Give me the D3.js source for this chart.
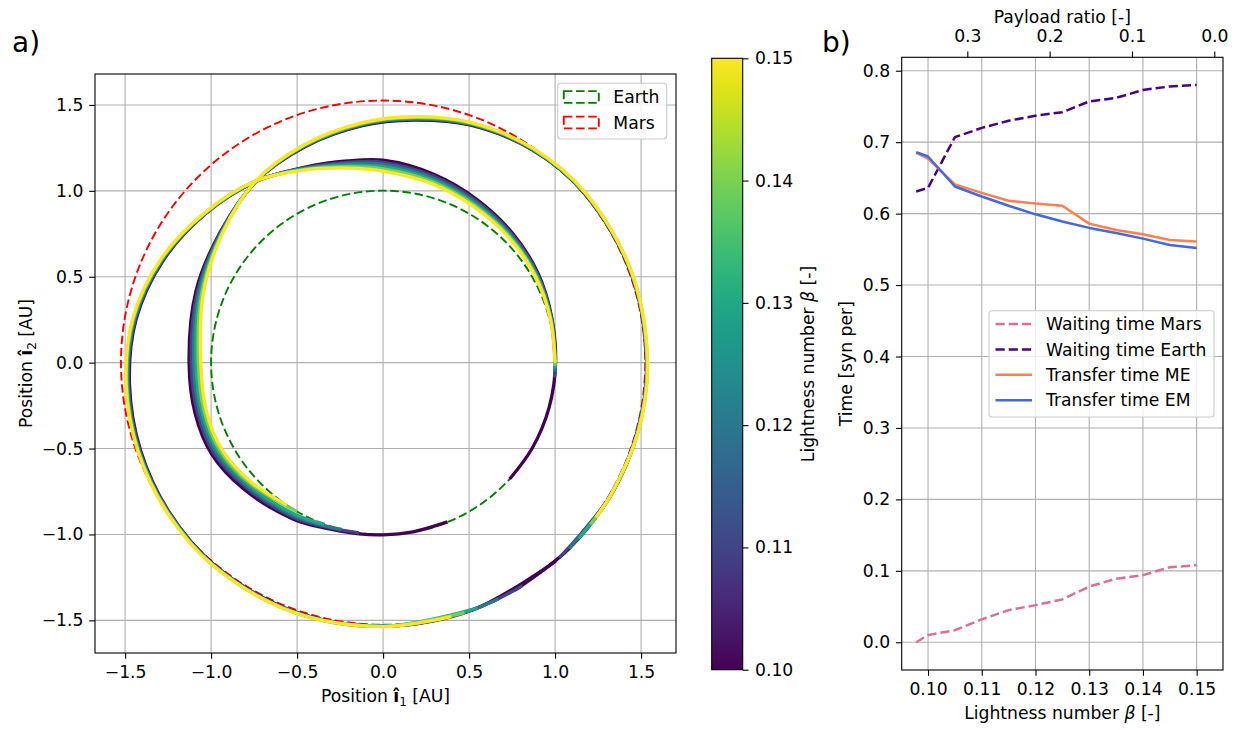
<!DOCTYPE html>
<html><head><meta charset="utf-8">
<script src="https://cdn.jsdelivr.net/npm/d3@7"></script>
<style>
body{margin:0;background:#fff;}
svg{display:block;font-family:"DejaVu Sans",sans-serif;}
</style>
</head><body>
<svg id="c" width="1239" height="730"></svg>
<script>
// ---------------- DATA ----------------
// Panel a) trajectories, each point = [polar angle in degrees, radius in AU]
const trajBeta = [0.10, 0.11, 0.12, 0.13, 0.14, 0.15];
const trajEM = [
  [[-42.6,1.0],[-30,1.0],[-15,1.0],[0,1.003],[15,1.015],[30,1.04],[45,1.065],[60,1.095],[75,1.135],[90,1.178],[100,1.192],[112,1.226],[125,1.288],[140,1.348],[155,1.41],[170,1.458],[185,1.48],[200,1.50],[215,1.518],[230,1.533],[250,1.538],[270,1.533],[290,1.53],[311,1.53]],
  [[-5,1.0],[0,1.001],[15,1.013],[30,1.036],[45,1.058],[60,1.086],[75,1.124],[90,1.166],[100,1.184],[112,1.223],[125,1.288],[140,1.35],[155,1.413],[170,1.462],[185,1.485],[200,1.504],[215,1.52],[230,1.535],[250,1.539],[270,1.534],[290,1.53],[302,1.53]],
  [[-3,1.0],[0,1.001],[15,1.011],[30,1.031],[45,1.051],[60,1.077],[75,1.113],[90,1.154],[100,1.176],[112,1.22],[125,1.289],[140,1.351],[155,1.417],[170,1.467],[185,1.49],[200,1.508],[215,1.523],[230,1.536],[250,1.541],[270,1.534],[285,1.53],[296,1.53]],
  [[-2,1.0],[0,1.0],[15,1.009],[30,1.027],[45,1.044],[60,1.068],[75,1.102],[90,1.141],[100,1.167],[112,1.216],[125,1.29],[140,1.352],[155,1.42],[170,1.471],[185,1.494],[200,1.511],[215,1.525],[230,1.538],[250,1.542],[270,1.535],[291,1.53]],
  [[-1,1.0],[0,1.0],[15,1.007],[30,1.022],[45,1.038],[60,1.059],[75,1.091],[90,1.128],[100,1.158],[112,1.213],[125,1.29],[140,1.354],[155,1.423],[170,1.475],[185,1.497],[200,1.514],[215,1.527],[230,1.539],[250,1.543],[270,1.535],[288,1.53]],
  [[0,1.0],[15,1.006],[30,1.018],[45,1.032],[60,1.05],[75,1.08],[90,1.115],[100,1.15],[112,1.21],[125,1.291],[140,1.356],[155,1.426],[170,1.478],[185,1.5],[200,1.516],[215,1.529],[230,1.54],[250,1.544],[270,1.536],[285,1.53]]
];
const trajME = [
  [[-60,1.53],[-45,1.53],[-30,1.531],[-15,1.532],[0,1.532],[20,1.533],[40,1.53],[55,1.512],[70,1.472],[83,1.422],[95,1.384],[110,1.336],[125,1.288],[141,1.215],[159,1.165],[180,1.128],[195,1.132],[208,1.13],[222,1.095],[240,1.05],[250,1.022],[262,1.006],[270,1.002],[280,1.0],[292,1.0]],
  [[-48,1.53],[-30,1.532],[-15,1.533],[0,1.533],[20,1.534],[40,1.532],[55,1.514],[70,1.475],[83,1.426],[95,1.388],[110,1.338],[125,1.288],[141,1.212],[159,1.156],[180,1.115],[195,1.118],[208,1.116],[222,1.08],[240,1.04],[250,1.015],[262,1.0]],
  [[-45,1.53],[-30,1.533],[-15,1.534],[0,1.534],[20,1.535],[40,1.533],[55,1.516],[70,1.478],[83,1.43],[95,1.392],[110,1.341],[125,1.289],[141,1.209],[159,1.147],[180,1.101],[195,1.104],[208,1.102],[222,1.068],[240,1.03],[250,1.008],[256,1.0]],
  [[-42,1.53],[-30,1.533],[-15,1.535],[0,1.535],[20,1.536],[40,1.534],[55,1.518],[70,1.482],[83,1.434],[95,1.395],[110,1.343],[125,1.29],[141,1.206],[159,1.138],[180,1.088],[195,1.091],[208,1.089],[222,1.056],[240,1.02],[250,1.0]],
  [[-38,1.53],[-30,1.532],[-15,1.536],[0,1.536],[20,1.537],[40,1.535],[55,1.52],[70,1.485],[83,1.438],[95,1.398],[110,1.346],[125,1.29],[141,1.203],[159,1.129],[180,1.074],[195,1.078],[208,1.077],[222,1.045],[240,1.0]],
  [[-36,1.53],[-30,1.531],[-15,1.537],[0,1.538],[20,1.538],[40,1.537],[55,1.522],[70,1.488],[83,1.442],[95,1.402],[110,1.348],[125,1.291],[141,1.2],[159,1.12],[180,1.06],[195,1.065],[208,1.065],[222,1.035],[236,1.0]]
];
const planetNames = ["Earth", "Mars"];
const planetRadii = [1.0, 1.524];
const posTicks = [-1.5, -1.0, -0.5, 0.0, 0.5, 1.0, 1.5];
const cbarTicks = [0.10, 0.11, 0.12, 0.13, 0.14, 0.15];

// Panel b)
const lightness = [0.0978, 0.100, 0.105, 0.110, 0.115, 0.120, 0.125, 0.130, 0.135, 0.140, 0.145, 0.150];
const waitMars  = [0.000, 0.010, 0.017, 0.032, 0.045, 0.052, 0.060, 0.078, 0.089, 0.094, 0.105, 0.108];
const waitEarth = [0.631, 0.636, 0.707, 0.720, 0.730, 0.737, 0.742, 0.757, 0.762, 0.773, 0.778, 0.780];
const transferME = [0.685, 0.677, 0.641, 0.629, 0.618, 0.614, 0.611, 0.586, 0.577, 0.571, 0.563, 0.561];
const transferEM = [0.686, 0.680, 0.638, 0.624, 0.611, 0.599, 0.589, 0.580, 0.573, 0.565, 0.556, 0.552];
const seriesNames = ["Waiting time Mars", "Waiting time Earth", "Transfer time ME", "Transfer time EM"];
const betaTicks = [0.10, 0.11, 0.12, 0.13, 0.14, 0.15];
const timeTicks = [0.0, 0.1, 0.2, 0.3, 0.4, 0.5, 0.6, 0.7, 0.8];
const payloadTicks = [0.3, 0.2, 0.1, 0.0];

// ---------------- STYLE ----------------
const FS = 17.2;
const GRID = "#b0b0b0";
const seriesColors = ["#DB7093", "#4B0082", "#FF7F50", "#4169E1"];
const seriesDash = ["9.2,4", "9.2,4", null, null];
const planetColors = ["green", "red"];

const svg = d3.select("#c");
svg.append("rect").attr("width",1239).attr("height",730).attr("fill","#fff");

function styleAxis(g){
  g.select(".domain").remove();
  g.selectAll(".tick line").attr("stroke","#000").attr("stroke-width",1.1);
  g.selectAll(".tick text").attr("font-size",FS).attr("fill","#000").attr("font-family","DejaVu Sans");
}

// ================= PANEL A =================
const A = {l:95, r:676, t:74, b:653};
const xL = d3.scaleLinear().domain([-1.675, 1.703]).range([A.l, A.r]);
const yL = d3.scaleLinear().domain([1.680, -1.690]).range([A.t, A.b]);
const gA = svg.append("g");
gA.append("defs").append("clipPath").attr("id","clipA").append("rect")
  .attr("x",A.l).attr("y",A.t).attr("width",A.r-A.l).attr("height",A.b-A.t);

// grid
gA.selectAll(".gx").data(posTicks).join("line")
  .attr("x1",d=>xL(d)).attr("x2",d=>xL(d)).attr("y1",A.t).attr("y2",A.b)
  .attr("stroke",GRID).attr("stroke-width",1.1);
gA.selectAll(".gy").data(posTicks).join("line")
  .attr("y1",d=>yL(d)).attr("y2",d=>yL(d)).attr("x1",A.l).attr("x2",A.r)
  .attr("stroke",GRID).attr("stroke-width",1.1);

const plotA = gA.append("g").attr("clip-path","url(#clipA)");
// planet orbits
plotA.selectAll(".orbit").data(planetRadii).join("circle")
  .attr("cx",xL(0)).attr("cy",yL(0))
  .attr("r",d=>xL(d)-xL(0))
  .attr("fill","none")
  .attr("stroke",(d,i)=>planetColors[i])
  .attr("stroke-width",1.9)
  .attr("stroke-dasharray","8.5,3.7");

// trajectories
const viridis = d3.scaleSequential(d3.interpolateViridis).domain([0.10, 0.15]);
const rad = Math.PI/180;
const trajLine = d3.line()
  .x(d=>xL(d[1]*Math.cos(d[0]*rad)))
  .y(d=>yL(d[1]*Math.sin(d[0]*rad)))
  .curve(d3.curveCatmullRom.alpha(0.5));
trajBeta.forEach((b,i)=>{
  [trajEM[i], trajME[i]].forEach(path=>{
    plotA.append("path").attr("d",trajLine(path))
      .attr("fill","none").attr("stroke",viridis(b))
      .attr("stroke-width",3.3).attr("stroke-linecap","butt").attr("stroke-linejoin","round");
  });
});

// axes
const axA_x = gA.append("g").attr("transform",`translate(0,${A.b})`)
  .call(d3.axisBottom(xL).tickValues(posTicks).tickFormat(d3.format(".1f")).tickSize(5.8).tickPadding(7));
styleAxis(axA_x);
const axA_y = gA.append("g").attr("transform",`translate(${A.l},0)`)
  .call(d3.axisLeft(yL).tickValues(posTicks).tickFormat(d3.format(".1f")).tickSize(5.8).tickPadding(5.8));
styleAxis(axA_y);
gA.append("rect").attr("x",A.l).attr("y",A.t).attr("width",A.r-A.l).attr("height",A.b-A.t)
  .attr("fill","none").attr("stroke","#000").attr("stroke-width",1.1);

// legend a
const legA = gA.append("g");
legA.append("rect").attr("x",557.7).attr("y",83.3).attr("width",109).attr("height",55.7)
  .attr("rx",3).attr("fill","#fff").attr("fill-opacity",0.8).attr("stroke","#cccccc").attr("stroke-width",1.1);
planetNames.forEach((n,i)=>{
  const cy = 97 + i*25.5;
  legA.append("rect").attr("x",563.8).attr("y",cy-5.9).attr("width",35).attr("height",11.8)
    .attr("fill","none").attr("stroke",planetColors[i]).attr("stroke-width",1.9).attr("stroke-dasharray","8.5,3.7");
  legA.append("text").attr("x",613.3).attr("y",cy+6.2).attr("font-size",FS).text(n);
});

// labels a
const xlabA = svg.append("text").attr("x",(A.l+A.r)/2).attr("y",701.5).attr("text-anchor","middle").attr("font-size",FS);
xlabA.append("tspan").text("Position ");
xlabA.append("tspan").attr("font-weight","bold").text("î");
xlabA.append("tspan").attr("font-size",12).attr("dy",4).text("1");
xlabA.append("tspan").attr("dy",-4).text(" [AU]");
const ylabA = svg.append("text").attr("transform",`translate(32,${(A.t+A.b)/2}) rotate(-90)`).attr("text-anchor","middle").attr("font-size",FS);
ylabA.append("tspan").text("Position ");
ylabA.append("tspan").attr("font-weight","bold").text("î");
ylabA.append("tspan").attr("font-size",12).attr("dy",4).text("2");
ylabA.append("tspan").attr("dy",-4).text(" [AU]");
svg.append("text").attr("x",12).attr("y",51.7).attr("font-size",28).text("a)");

// colorbar
const CB = {l:711.7, r:742.7, t:58.3, b:669.7};
const cbScale = d3.scaleLinear().domain([0.10,0.15]).range([CB.b, CB.t]);
const grad = svg.append("defs").append("linearGradient").attr("id","vir")
  .attr("x1",0).attr("y1",1).attr("x2",0).attr("y2",0);
d3.range(0,1.0001,0.05).forEach(t=>{
  grad.append("stop").attr("offset",t).attr("stop-color",d3.interpolateViridis(t));
});
svg.append("rect").attr("x",CB.l).attr("y",CB.t).attr("width",CB.r-CB.l).attr("height",CB.b-CB.t)
  .attr("fill","url(#vir)").attr("stroke","#000").attr("stroke-width",1.1);
const cbAx = svg.append("g").attr("transform",`translate(${CB.r},0)`)
  .call(d3.axisRight(cbScale).tickValues(cbarTicks).tickFormat(d3.format(".2f")).tickSize(5.8).tickPadding(6.5));
styleAxis(cbAx);
const cbl = svg.append("text").attr("transform",`translate(814,${(CB.t+CB.b)/2}) rotate(-90)`).attr("text-anchor","middle").attr("font-size",FS);
cbl.append("tspan").text("Lightness number ");
cbl.append("tspan").attr("font-style","italic").text("β");
cbl.append("tspan").text(" [-]");

// ================= PANEL B =================
const B = {l:901.7, r:1223, t:57.3, b:670};
const xR = d3.scaleLinear().domain([0.0951, 0.1549]).range([B.l, B.r]);
const yR = d3.scaleLinear().domain([-0.0388, 0.8188]).range([B.b, B.t]);
const xTop = d3.scaleLinear().domain([0.3797, -0.01057]).range([B.l, B.r]);
const gB = svg.append("g");
gB.selectAll(".gx").data(betaTicks).join("line")
  .attr("x1",d=>xR(d)).attr("x2",d=>xR(d)).attr("y1",B.t).attr("y2",B.b)
  .attr("stroke",GRID).attr("stroke-width",1.1);
gB.selectAll(".gy").data(timeTicks).join("line")
  .attr("y1",d=>yR(d)).attr("y2",d=>yR(d)).attr("x1",B.l).attr("x2",B.r)
  .attr("stroke",GRID).attr("stroke-width",1.1);

const seriesData = [waitMars, waitEarth, transferME, transferEM];
const lineB = d3.line().x((d,i)=>xR(lightness[i])).y(d=>yR(d));
seriesData.forEach((s,i)=>{
  gB.append("path").attr("d",lineB(s)).attr("fill","none")
    .attr("stroke",seriesColors[i]).attr("stroke-width",2.5)
    .attr("stroke-dasharray",seriesDash[i]).attr("stroke-linejoin","round");
});

const axB_x = gB.append("g").attr("transform",`translate(0,${B.b})`)
  .call(d3.axisBottom(xR).tickValues(betaTicks).tickFormat(d3.format(".2f")).tickSize(5.8).tickPadding(7));
styleAxis(axB_x);
const axB_y = gB.append("g").attr("transform",`translate(${B.l},0)`)
  .call(d3.axisLeft(yR).tickValues(timeTicks).tickFormat(d3.format(".1f")).tickSize(5.8).tickPadding(5.8));
styleAxis(axB_y);
const axB_t = gB.append("g").attr("transform",`translate(0,${B.t})`)
  .call(d3.axisTop(xTop).tickValues(payloadTicks).tickFormat(d3.format(".1f")).tickSize(5.8).tickPadding(10));
styleAxis(axB_t);
gB.append("rect").attr("x",B.l).attr("y",B.t).attr("width",B.r-B.l).attr("height",B.b-B.t)
  .attr("fill","none").attr("stroke","#000").attr("stroke-width",1.1);

// legend b
const legB = gB.append("g");
legB.append("rect").attr("x",989).attr("y",310.7).attr("width",225).attr("height",106.3)
  .attr("rx",3).attr("fill","#fff").attr("fill-opacity",0.8).attr("stroke","#cccccc").attr("stroke-width",1.1);
seriesNames.forEach((n,i)=>{
  const cy = 324 + i*25.4;
  legB.append("line").attr("x1",995.5).attr("x2",1032).attr("y1",cy).attr("y2",cy)
    .attr("stroke",seriesColors[i]).attr("stroke-width",2.5).attr("stroke-dasharray",seriesDash[i]);
  legB.append("text").attr("x",1046).attr("y",cy+6.2).attr("font-size",FS).text(n);
});

// labels b
const xlabB = svg.append("text").attr("x",(B.l+B.r)/2).attr("y",719).attr("text-anchor","middle").attr("font-size",FS);
xlabB.append("tspan").text("Lightness number ");
xlabB.append("tspan").attr("font-style","italic").text("β");
xlabB.append("tspan").text(" [-]");
svg.append("text").attr("x",(B.l+B.r)/2).attr("y",23).attr("text-anchor","middle").attr("font-size",FS).text("Payload ratio [-]");
svg.append("text").attr("transform",`translate(852,${(B.t+B.b)/2}) rotate(-90)`).attr("text-anchor","middle").attr("font-size",FS).text("Time [syn per]");
svg.append("text").attr("x",822).attr("y",51.7).attr("font-size",28).text("b)");
</script>
</body></html>
